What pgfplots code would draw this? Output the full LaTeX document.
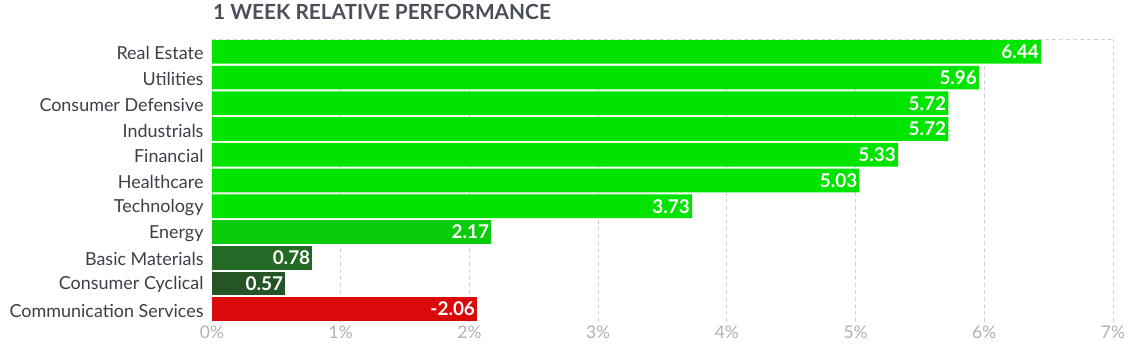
\documentclass[border=0pt]{standalone}
\usepackage{fontspec}
\setmainfont{Lato}
\usepackage{pgfplots}
\pgfplotsset{compat=1.18}
\definecolor{bright}{RGB}{0,228,0}
\definecolor{energyc}{RGB}{10,204,10}
\definecolor{basicc}{RGB}{35,107,37}
\definecolor{cyclc}{RGB}{37,85,39}
\definecolor{redc}{RGB}{219,10,10}
\definecolor{gridc}{RGB}{210,210,214}
\definecolor{labc}{RGB}{60,62,72}
\definecolor{tickc}{RGB}{176,176,180}
\definecolor{titlec}{RGB}{74,79,89}
\begin{document}
\begin{tikzpicture}
\path[use as bounding box] (0,0) rectangle (1134bp,351bp);
\node[anchor=base west, inner sep=0pt, text=titlec, font=\bfseries\fontsize{20.9}{21}\selectfont] at (213bp,331bp) {1 WEEK RELATIVE PERFORMANCE};
\begin{axis}[
  at={(212bp,29bp)}, anchor=south west,
  scale only axis, width=901bp, height=283bp,
  xmin=0, xmax=7, ymin=-0.5, ymax=10.5,
  enlargelimits=false,
  xbar, bar width=0.92, bar shift=0pt,
  xtick={0,1,2,3,4,5,6,7},
  xticklabels={0\%,1\%,2\%,3\%,4\%,5\%,6\%,7\%},
  ytick={0,1,2,3,4,5,6,7,8,9,10},
  yticklabels={Communication Services,Consumer Cyclical,Basic Materials,Energy,Technology,Healthcare,Financial,Industrials,Consumer Defensive,Utilities,Real Estate},
  major tick length=0pt,
  axis line style={draw=none},
  xmajorgrids, grid style={gridc, line width=0.9bp, dash pattern=on 4bp off 3bp},
  yticklabel style={font=\fontsize{18}{18}\selectfont, text=labc, xshift=-5bp, yshift=-1.5bp},
  xticklabel style={font=\fontsize{17.5}{18}\selectfont, text=tickc},
  point meta=explicit symbolic,
  nodes near coords,
  every node near coord/.append style={anchor=east, inner sep=2bp, text=white, font=\bfseries\fontsize{19}{19}\selectfont},
]
\draw[gridc, line width=0.9bp, dash pattern=on 4bp off 3bp] (rel axis cs:0,1) -- (rel axis cs:1,1);
\draw[gridc, line width=0.9bp, dash pattern=on 4bp off 3bp] (rel axis cs:0,0) -- (rel axis cs:1,0);
\addplot[fill=bright, draw=none] coordinates {(6.44,10) [6.44] (5.96,9) [5.96] (5.72,8) [5.72] (5.72,7) [5.72] (5.33,6) [5.33] (5.03,5) [5.03] (3.73,4) [3.73]};
\addplot[fill=energyc, draw=none] coordinates {(2.17,3) [2.17]};
\addplot[fill=basicc, draw=none] coordinates {(0.78,2) [0.78]};
\addplot[fill=cyclc, draw=none] coordinates {(0.57,1) [0.57]};
\addplot[fill=redc, draw=none] coordinates {(2.06,0) [-2.06]};
\end{axis}
\end{tikzpicture}
\end{document}
